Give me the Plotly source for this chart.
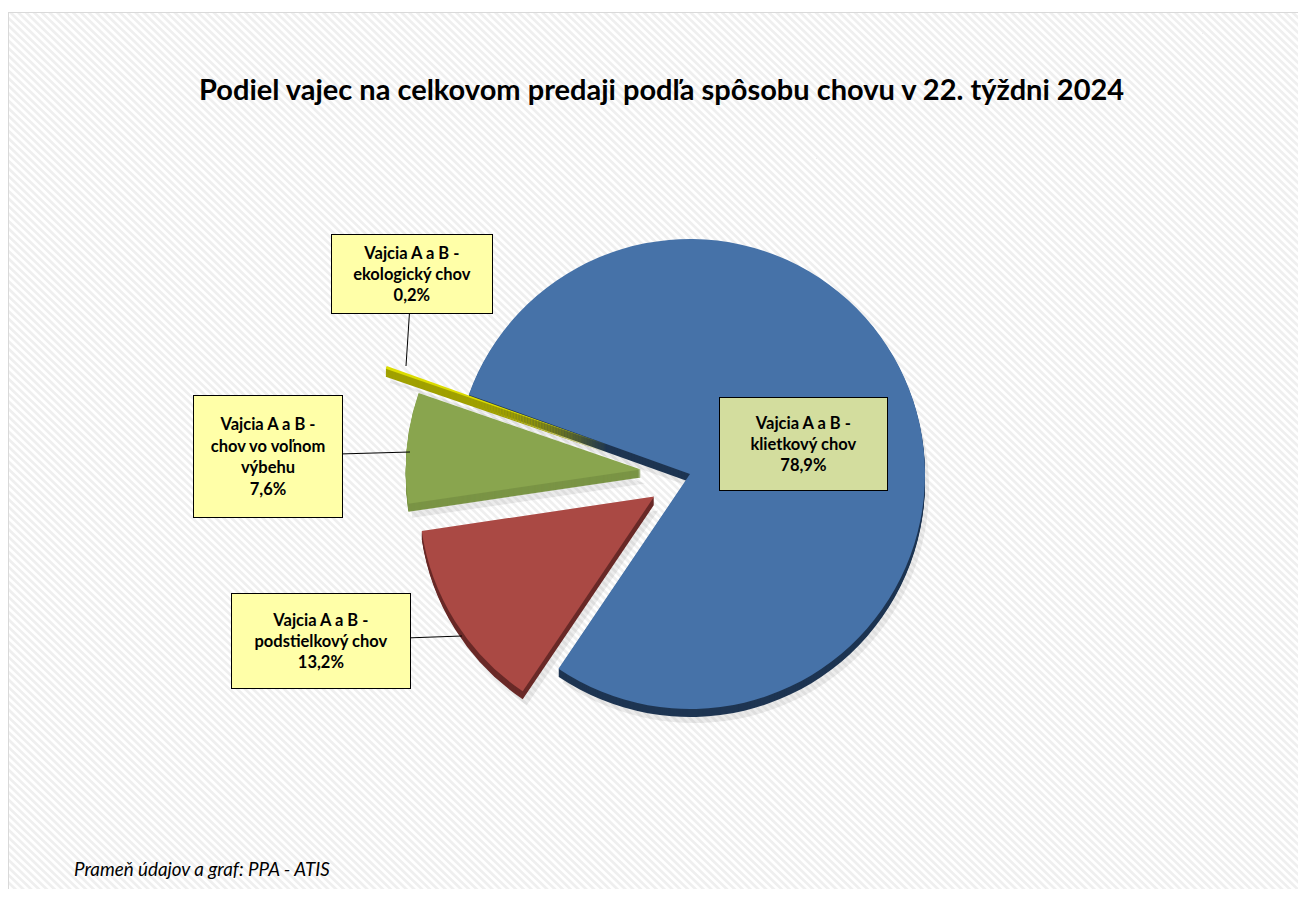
import base64
import plotly.graph_objects as go

# ---------------- data ----------------
categories = [
    "Vajcia A a B -<br>klietkový chov",
    "Vajcia A a B -<br>podstielkový chov",
    "Vajcia A a B -<br>chov vo voľnom<br>výbehu",
    "Vajcia A a B -<br>ekologický chov",
]
values = [78.9, 13.2, 7.6, 0.2]
title_text = "Podiel vajec na celkovom predaji podľa spôsobu chovu v 22. týždni 2024"
source_text = "Prameň údajov a graf: PPA - ATIS"

# ---------------- styling ----------------
top_colors = ["#4672A8", "#AA4944", "#89A54E", "#DCDC00"]
side_colors = ["#1E3552", "#6A2A28", "#7A9445", "#A0A000"]
pulls = [0.0, 0.18, 0.21, 0.37]
box_colors = ["#D3DD9E", "#FFFFA8", "#FFFFA8", "#FFFFA8"]

W, H = 1290, 881  # figure size (page body adds 8px margin)
OFF = 8


def px(X):
    return (X - OFF) / W


def py(Y):
    return 1 - (Y - OFF) / H


# pie geometry (reference pixels)
cx, cy, r = 690, 474, 235
box = r * (2 + 2 * max(pulls))
dx = [px(cx - box / 2), px(cx + box / 2)]
dy = [py(cy + box / 2), py(cy - box / 2)]
rotation = -70.3
depth = 8

# hatched background as svg pattern
svg = (
    "<svg xmlns='http://www.w3.org/2000/svg' width='1400' height='1000'>"
    "<defs><pattern id='p' width='6' height='6' patternUnits='userSpaceOnUse' "
    "patternTransform='rotate(-45)'>"
    "<rect width='6' height='6' fill='#ffffff'/>"
    "<rect width='3' height='6' fill='#efefef'/></pattern></defs>"
    "<rect width='100%' height='100%' fill='url(#p)'/></svg>"
)
svg_uri = "data:image/svg+xml;base64," + base64.b64encode(svg.encode()).decode()

fig = go.Figure()


def add_pie(colors, shift_x=0, shift_y=0, opacity=1.0):
    fig.add_trace(go.Pie(
        labels=categories,
        values=values,
        sort=False,
        direction="clockwise",
        rotation=rotation,
        pull=pulls,
        marker=dict(colors=colors, line=dict(width=0)),
        textinfo="none",
        hoverinfo="skip",
        showlegend=False,
        opacity=opacity,
        domain=dict(
            x=[dx[0] + shift_x / W, dx[1] + shift_x / W],
            y=[dy[0] - shift_y / H, dy[1] - shift_y / H],
        ),
    ))


# soft shadow
add_pie(["rgba(0,0,0,1)"] * 4, shift_x=4, shift_y=depth + 6, opacity=0.07)
# extruded side faces
for s in range(depth, 0, -1):
    add_pie(side_colors, shift_y=s)
# top face
add_pie(top_colors)

# ---------------- labels ----------------
# (tip X, tip Y, box centre X, box centre Y, box width, box height, leader?)
label_boxes = [
    (803, 444, 803, 444, 169, 94, False),
    (462, 636, 321, 641, 180, 96, True),
    (410, 452, 268, 456, 150, 123, True),
    (406, 366, 412, 274, 162, 80, True),
]

annotations = []
for cat, val, bc, (tx, ty, bx, by, bw, bh, lead) in zip(categories, values, box_colors, label_boxes):
    text = f"{cat}<br>{val:.1f}%".replace(".", ",")
    common = dict(
        text=text,
        xref="paper", yref="paper",
        font=dict(family="Lato, Calibri, sans-serif", size=16.5, color="#000000", weight="bold"),
        bgcolor=bc,
        bordercolor="#000000",
        borderwidth=1,
        borderpad=0,
        width=bw - 2,
        height=bh - 2,
        align="center",
        valign="middle",
    )
    if lead:
        annotations.append(dict(
            x=px(tx), y=py(ty),
            showarrow=True, arrowhead=0, arrowwidth=1, arrowcolor="#000000",
            ax=bx - tx, ay=by - ty, standoff=0, startstandoff=0,
            **common,
        ))
    else:
        annotations.append(dict(x=px(bx), y=py(by), showarrow=False, **common))

annotations.append(dict(
    text=f"<b>{title_text}</b>",
    x=px(661), y=py(88), xref="paper", yref="paper",
    showarrow=False, xanchor="center", yanchor="middle",
    font=dict(family="Lato, Calibri, sans-serif", size=29, color="#000000"),
))
annotations.append(dict(
    text=f"<i>{source_text}</i>",
    x=px(72), y=py(868), xref="paper", yref="paper",
    showarrow=False, xanchor="left", yanchor="middle",
    font=dict(family="Lato, Calibri, sans-serif", size=18.8, color="#000000"),
))

fig.update_layout(
    width=W, height=H,
    margin=dict(l=0, r=0, t=0, b=0),
    paper_bgcolor="#ffffff",
    plot_bgcolor="#ffffff",
    annotations=annotations,
    images=[dict(
        source=svg_uri, xref="paper", yref="paper",
        x=px(8), y=py(12), sizex=1.0, sizey=py(12) + 0.01,
        xanchor="left", yanchor="top", sizing="stretch", layer="below",
    )],
    shapes=[
        dict(type="line", xref="paper", yref="paper", x0=px(8.5), x1=px(8.5), y0=0, y1=py(12),
             line=dict(color="#d9d9d9", width=1)),
        dict(type="line", xref="paper", yref="paper", x0=px(8), x1=1, y0=py(12.5), y1=py(12.5),
             line=dict(color="#d9d9d9", width=1)),
    ],
)

fig.write_html("out.html")
